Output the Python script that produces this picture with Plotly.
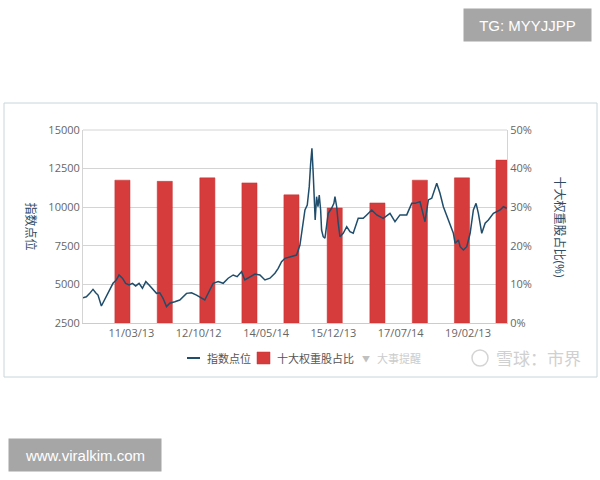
import plotly.graph_objects as go

# ---- data ----
line_dates = [
    "2010-01-21", "2010-02-19", "2010-03-20", "2010-04-17", "2010-05-10", "2010-05-30",
    "2010-06-28", "2010-07-27", "2010-08-24", "2010-09-22", "2010-10-06", "2010-11-04",
    "2010-11-27", "2010-12-26", "2011-01-23", "2011-02-21", "2011-03-22", "2011-04-19",
    "2011-05-18", "2011-06-16", "2011-07-15", "2011-08-12", "2011-09-10", "2011-10-15",
    "2011-11-12", "2011-12-10", "2012-01-09", "2012-02-06", "2012-03-20", "2012-05-02",
    "2012-06-29", "2012-08-11", "2012-09-23", "2012-11-05", "2012-12-03", "2013-01-15",
    "2013-02-13", "2013-03-28", "2013-05-10", "2013-06-22", "2013-08-04", "2013-09-07",
    "2013-10-15", "2013-11-12", "2013-12-26", "2014-02-07", "2014-03-22", "2014-05-04",
    "2014-06-16", "2014-07-29", "2014-08-26", "2014-09-24", "2014-10-23", "2014-12-05",
    "2015-01-31", "2015-03-01", "2015-03-29", "2015-04-13", "2015-05-03", "2015-05-20",
    "2015-06-01", "2015-06-12", "2015-06-23", "2015-07-02", "2015-07-10", "2015-07-22",
    "2015-08-03", "2015-08-14", "2015-08-26", "2015-09-03", "2015-09-17", "2015-10-02",
    "2015-10-17", "2015-10-30", "2015-11-28", "2015-12-18", "2015-12-27", "2016-01-11",
    "2016-01-24", "2016-02-08", "2016-03-07", "2016-04-06", "2016-05-04", "2016-06-01",
    "2016-07-14", "2016-08-26", "2016-09-25", "2016-11-07", "2016-12-20", "2017-02-14",
    "2017-04-13", "2017-05-26", "2017-07-08", "2017-09-04", "2017-10-17", "2017-11-14",
    "2017-12-27", "2018-02-08", "2018-03-09", "2018-04-07", "2018-05-20", "2018-06-17",
    "2018-07-16", "2018-08-28", "2018-09-26", "2018-10-10", "2018-10-25", "2018-11-22",
    "2018-12-07", "2019-01-04", "2019-02-02", "2019-03-03", "2019-03-31", "2019-04-23",
    "2019-05-13", "2019-06-11", "2019-07-10", "2019-08-07", "2019-09-19", "2019-11-16",
    "2019-12-14", "2020-01-12",
]
index_points = [
    4140, 4200, 4420, 4680, 4460, 4310,
    3600, 4030, 4460, 4850, 5070, 5290,
    5610, 5400, 5070, 4960, 5070, 4900,
    5070, 4750, 5180, 4960, 4680, 4420,
    4460, 4100, 3560, 3780, 3880, 3990,
    4420, 4460, 4310, 4100, 3990, 4640,
    5070, 5180, 5070, 5400, 5610, 5500,
    5820, 5290, 5500, 5670, 5610, 5290,
    5400, 5720, 6040, 6470, 6690, 6790,
    6900, 7550, 9170, 9820, 10140, 11330,
    12840, 13810, 12200, 10680, 9170, 10680,
    10030, 10790, 9820, 8520, 8090, 7990,
    8740, 9600, 9930, 10250, 10680, 10030,
    8960, 8090, 8310, 8740, 8410, 8310,
    9280, 9280, 9500, 9820, 9500, 9280,
    9600, 9060, 9500, 9500, 10250, 10250,
    10360, 9060, 10470, 10580, 11550, 10900,
    10030, 9170, 8630, 8310, 7660, 7880,
    7440, 7230, 7440, 8310, 9820, 10250,
    9600, 8310, 8960, 9170, 9600, 9820,
    10030, 9930,
]

bar_dates = ["2010-12-26", "2011-12-25", "2012-12-25", "2013-12-22", "2014-12-18",
             "2015-12-25", "2016-12-26", "2017-12-26", "2018-12-23", "2019-12-15"]
top10_share = [37.0, 36.7, 37.6, 36.3, 33.2, 29.8, 31.1, 37.0, 37.6, 42.2]

tick_dates = ["2011-03-13", "2012-10-12", "2014-05-14", "2015-12-13", "2017-07-14", "2019-02-13"]
tick_text = ["11/03/13", "12/10/12", "14/05/14", "15/12/13", "17/07/14", "19/02/13"]

legend_names = ["指数点位", "十大权重股占比", "大事提醒"]

# ---- figure ----
FONT = "Open Sans, Noto Sans CJK SC, sans-serif"
LINE_COLOR = "#1f4d6b"
BAR_COLOR = "#d73c3c"

fig = go.Figure()
fig.add_trace(go.Bar(
    x=bar_dates, y=top10_share, name=legend_names[1],
    marker=dict(color=BAR_COLOR, line=dict(color="#c43030", width=0.5)),
    width=130 * 86400000, yaxis="y",
))
fig.add_trace(go.Scatter(
    x=line_dates, y=index_points, name=legend_names[0], mode="lines",
    line=dict(color=LINE_COLOR, width=1.5), yaxis="y2",
))

# pixel -> paper helpers (plot area: x 83..507, y 130..323)
def px(x):
    return (x - 83) / 424.0

def py(y):
    return (323 - y) / 193.0

LY = 358  # legend row centre

fig.update_layout(
    width=600, height=480,
    margin=dict(l=83, r=93, t=130, b=157),
    paper_bgcolor="white", plot_bgcolor="white",
    font=dict(family=FONT, size=11, color="#666666"),
    showlegend=False,
    xaxis=dict(
        type="date", range=["2010-01-21", "2020-01-14"],
        tickvals=tick_dates, ticktext=tick_text,
        showgrid=False, showline=True, linecolor="#cccccc", linewidth=1,
        ticks="", tickfont=dict(size=11, color="#666666"), zeroline=False,
    ),
    yaxis=dict(
        side="right", range=[0, 50], dtick=10, ticksuffix="%",
        showgrid=True, gridcolor="#d4d4d4", gridwidth=1,
        showline=True, linecolor="#d4d4d4", zeroline=False,
        tickfont=dict(size=11, color="#666666"),
    ),
    yaxis2=dict(
        overlaying="y", side="left", range=[2500, 15000], dtick=2500, tickformat="d",
        showgrid=False, showline=True, linecolor="#d4d4d4", zeroline=False,
        tickfont=dict(size=11, color="#666666"),
    ),
    shapes=[
        dict(type="rect", xref="paper", yref="paper",
             x0=px(4), x1=px(597), y0=py(377), y1=py(103),
             line=dict(color="#c9d6d8", width=1), fillcolor="rgba(0,0,0,0)", layer="below"),
        dict(type="line", xref="paper", yref="paper", x0=0, x1=1, y0=1, y1=1,
             line=dict(color="#d4d4d4", width=1)),
        dict(type="line", xref="paper", yref="paper", x0=px(187), x1=px(200),
             y0=py(LY), y1=py(LY), line=dict(color=LINE_COLOR, width=2)),
        dict(type="rect", xref="paper", yref="paper", x0=px(257), x1=px(270),
             y0=py(364), y1=py(352), line=dict(color="#c43030", width=0.5),
             fillcolor=BAR_COLOR),
        dict(type="circle", xref="paper", yref="paper", x0=px(472), x1=px(488),
             y0=py(366), y1=py(350), line=dict(color="#d4d4d4", width=1.5)),
    ],
    annotations=[
        dict(text="指数点位", xref="paper", yref="paper", x=px(30), y=0.5,
             xanchor="center", yanchor="middle",
             textangle=90, showarrow=False, font=dict(size=12, color="#2e4b63")),
        dict(text="十大权重股占比(%)", xref="paper", yref="paper", x=px(559), y=0.5,
             xanchor="center", yanchor="middle",
             textangle=90, showarrow=False, font=dict(size=12, color="#2e4b63")),
        dict(text=legend_names[0], xref="paper", yref="paper", x=px(205), y=py(LY),
             xanchor="left", yanchor="middle", showarrow=False,
             font=dict(size=11, color="#555555")),
        dict(text=legend_names[1], xref="paper", yref="paper", x=px(275), y=py(LY),
             xanchor="left", yanchor="middle", showarrow=False,
             font=dict(size=11, color="#555555")),
        dict(text="▼", xref="paper", yref="paper", x=px(365.5), y=py(LY),
             xanchor="center", yanchor="middle", showarrow=False,
             font=dict(size=8, color="#c0c0c0")),
        dict(text=legend_names[2], xref="paper", yref="paper", x=px(375), y=py(LY),
             xanchor="left", yanchor="middle", showarrow=False,
             font=dict(size=11, color="#cccccc")),
        dict(text="雪球：市界", xref="paper", yref="paper", x=px(494), y=py(LY),
             xanchor="left", yanchor="middle", showarrow=False,
             font=dict(size=17, color="#d0d0d0")),
        dict(text="TG: MYYJJPP", xref="paper", yref="paper", x=px(527), y=py(25),
             xanchor="center", yanchor="middle",
             showarrow=False, width=125, height=30, bgcolor="#a6a6a6",
             font=dict(family="Liberation Sans, Arial", size=15, color="white")),
        dict(text="www.viralkim.com", xref="paper", yref="paper", x=px(85), y=py(455),
             xanchor="center", yanchor="middle",
             showarrow=False, width=150, height=30, bgcolor="#a6a6a6",
             font=dict(family="Liberation Sans, Arial", size=15, color="white")),
    ],
)

fig.write_html("out.html", config={"displayModeBar": False},
               post_script="document.body.style.margin='0';document.body.style.overflow='hidden';")
